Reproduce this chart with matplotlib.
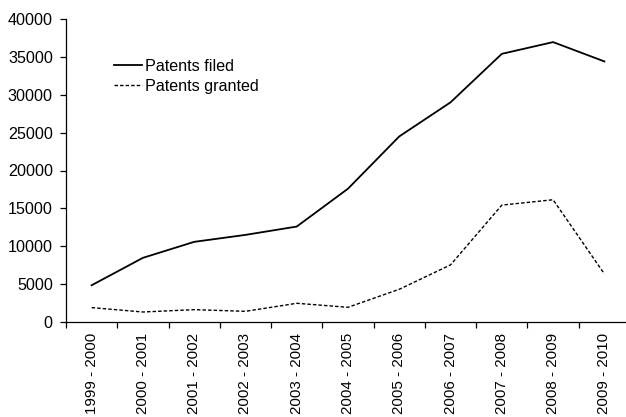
import numpy as np
import matplotlib
matplotlib.use("Agg")
import matplotlib.pyplot as plt

plt.rcParams["font.family"] = ["Liberation Sans", "DejaVu Sans"]

# ================= DATA =================
years = ["1999 - 2000", "2000 - 2001", "2001 - 2002", "2002 - 2003",
         "2003 - 2004", "2004 - 2005", "2005 - 2006", "2006 - 2007",
         "2007 - 2008", "2008 - 2009", "2009 - 2010"]
filed = [4850, 8470, 10580, 11500, 12600, 17600, 24500, 29000,
         35400, 36950, 34400]
granted = [1900, 1320, 1630, 1410, 2470, 1940, 4320, 7540,
           15430, 16140, 6350]

FS = 11.6

# ================= PLOT =================
W, H = 626, 417
fig = plt.figure(figsize=(W / 100, H / 100), dpi=100)
ax = fig.add_axes([66 / W, 95 / H, 564 / W, 303 / H])

x = np.arange(len(years))
ax.plot(x, filed, color="black", linewidth=1.3, label="Patents filed")
ax.plot(x, granted, color="black", linewidth=1.0, dashes=(2.5, 1.5),
        label="Patents granted")

ax.set_xlim(-0.5, len(years) - 0.5)
ax.set_ylim(0, 40000)
ax.set_yticks(np.arange(0, 40001, 5000))

# tick marks between categories, labels at the centres
ax.set_xticks(np.arange(-0.5, len(years), 1.0))
ax.set_xticklabels([])
ax.set_xticks(x, minor=True)
ax.set_xticklabels(years, minor=True, rotation=90, fontsize=10.9)
ax.tick_params(axis="x", which="major", length=4, width=0.9, direction="out")
ax.tick_params(axis="x", which="minor", length=0, pad=8)
ax.tick_params(axis="y", length=4.5, width=0.9, direction="out",
               labelsize=FS, pad=5)

for s in ["top", "right"]:
    ax.spines[s].set_visible(False)
for s in ["left", "bottom"]:
    ax.spines[s].set_linewidth(0.9)

ax.legend(loc="upper left", bbox_to_anchor=(114 / W, 1 - 59 / H),
          bbox_transform=fig.transFigure, frameon=False, fontsize=FS,
          handlelength=1.75, handletextpad=0.2, labelspacing=0.3,
          borderpad=0, borderaxespad=0)

fig.savefig("out.png", dpi=100)
